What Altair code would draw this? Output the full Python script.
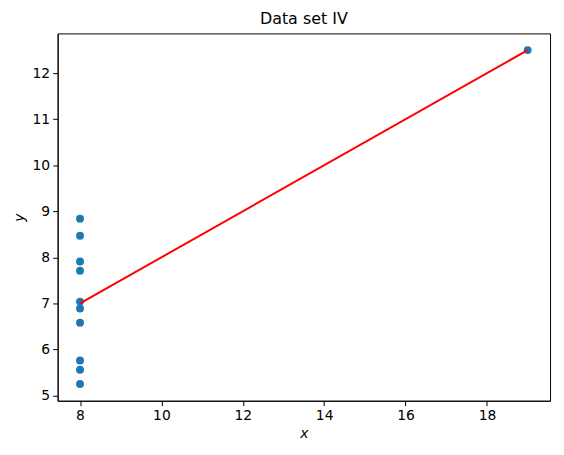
import altair as alt
import pandas as pd

x_vals = [8, 8, 8, 8, 8, 8, 8, 19, 8, 8, 8]
y_vals = [6.58, 5.76, 7.71, 8.84, 8.47, 7.04, 5.25, 12.50, 5.56, 7.91, 6.89]
x_ticks = [8, 10, 12, 14, 16, 18]
y_ticks = [5, 6, 7, 8, 9, 10, 11, 12]

df = pd.DataFrame({"x": x_vals, "y": y_vals})

font = "DejaVu Sans"
xscale = alt.Scale(domain=[7.45, 19.55], nice=False, zero=False)
yscale = alt.Scale(domain=[4.8875, 12.8625], nice=False, zero=False)

xaxis = alt.Axis(values=x_ticks, grid=False, title="x", titleFontStyle="italic",
                 titleFont=font, titleFontSize=14, titleFontWeight="normal", titleColor="black",
                 labelFont=font, labelFontSize=14, labelColor="black",
                 tickColor="black", tickSize=5, labelPadding=3, titlePadding=4,
                 domainColor="black")
yaxis = alt.Axis(values=y_ticks, grid=False, title="y", titleFontStyle="italic",
                 titleFont=font, titleFontSize=14, titleFontWeight="normal", titleColor="black",
                 labelFont=font, labelFontSize=14, labelColor="black",
                 tickColor="black", tickSize=5, labelPadding=3, titlePadding=6,
                 domainColor="black")

base = alt.Chart(df)

points = base.mark_circle(size=64, color="#1f77b4", opacity=1).encode(
    x=alt.X("x:Q", scale=xscale, axis=xaxis),
    y=alt.Y("y:Q", scale=yscale, axis=yaxis),
)

line = base.transform_regression("x", "y").mark_line(color="red", strokeWidth=2).encode(
    x=alt.X("x:Q", scale=xscale),
    y=alt.Y("y:Q", scale=yscale),
)

chart = alt.layer(points, line).properties(
    width=496, height=370,
    background="white",
    title=alt.TitleParams("Data set IV", font=font, fontSize=16, fontWeight="normal",
                          color="black", offset=6),
    autosize=alt.AutoSizeParams(type="none"),
    padding={"left": 50, "top": 24, "right": 6, "bottom": 46},
).configure_view(stroke="black", strokeWidth=1)

chart.save("out.html", embed_options={"renderer": "svg", "actions": False})
